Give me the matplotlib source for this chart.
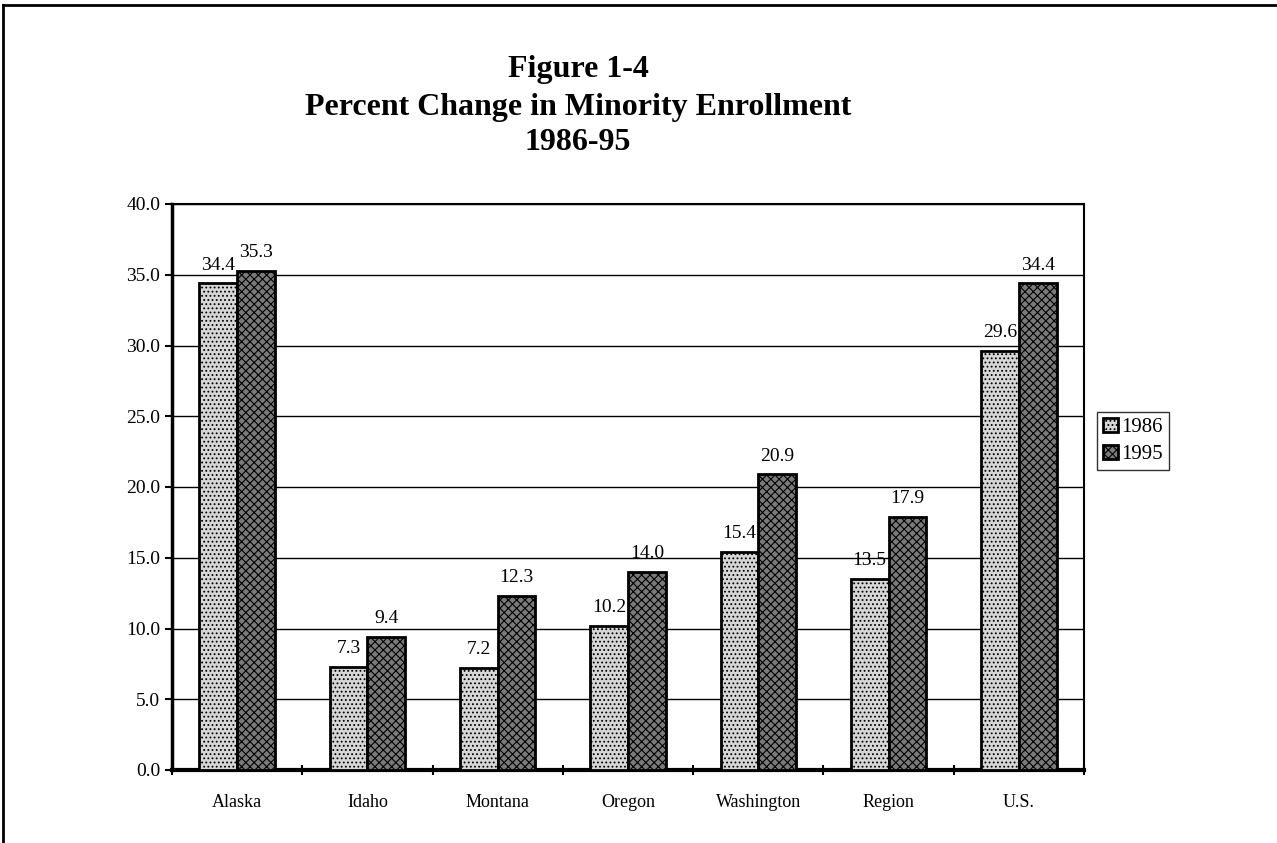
import matplotlib.pyplot as plt
import numpy as np

# Dades
categories = ['Alaska', 'Idaho', 'Montana', 'Oregon', 'Washington', 'Region', 'U.S.']
vals_1986 = [34.4, 7.3, 7.2, 10.2, 15.4, 13.5, 29.6]
vals_1995 = [35.3, 9.4, 12.3, 14.0, 20.9, 17.9, 34.4]
series_names = ['1986', '1995']

plt.rcParams['font.family'] = ['Liberation Serif', 'DejaVu Serif']
plt.rcParams['hatch.linewidth'] = 0.8

fig = plt.figure(figsize=(12.77, 8.43), dpi=100)
ax = fig.add_axes([172/1277, 1 - 770/843, (1084-172)/1277, (770-204)/843])

x = np.arange(len(categories))
w = 0.29
b1 = ax.bar(x - w/2, vals_1986, w, color='#d6d6d6', edgecolor='black', linewidth=2,
            hatch='....', label=series_names[0], zorder=3)
b2 = ax.bar(x + w/2, vals_1995, w, color='#7a7a7a', edgecolor='black', linewidth=2,
            hatch='xxxx', label=series_names[1], zorder=3)

for bars, vals in [(b1, vals_1986), (b2, vals_1995)]:
    for r, v in zip(bars, vals):
        ax.annotate(f'{v:.1f}', (r.get_x() + r.get_width()/2, v), xytext=(0, 7),
                    textcoords='offset points', ha='center', va='bottom', fontsize=14)

ax.set_xlim(-0.5, len(categories) - 0.5)
ax.set_ylim(0, 40)
ax.set_yticks(np.arange(0, 40.1, 5))
ax.set_yticklabels([f'{t:.1f}' for t in np.arange(0, 40.1, 5)], fontsize=14)
ax.set_xticks(x)
ax.set_xticklabels(categories, fontsize=13)
ax.set_xticks(np.arange(-0.5, len(categories)), minor=True)
ax.tick_params(axis='x', which='major', length=0, pad=17)
ax.tick_params(axis='x', which='minor', length=7, width=1.5, direction='inout')
ax.tick_params(axis='y', length=5, width=1.5, direction='out')
ax.yaxis.grid(True, color='black', linewidth=1, zorder=0)
ax.set_axisbelow(True)
for s in ax.spines.values():
    s.set_linewidth(1.5)
ax.spines['bottom'].set_linewidth(3)
ax.spines['left'].set_linewidth(2.5)

# Títol
fig.text(578/1277, 1 - 70/843, 'Figure 1-4', ha='center', va='center', fontsize=23, fontweight='bold')
fig.text(578/1277, 1 - 107/843, 'Percent Change in Minority Enrollment', ha='center', va='center',
         fontsize=23, fontweight='bold')
fig.text(578/1277, 1 - 143/843, '1986-95', ha='center', va='center', fontsize=23, fontweight='bold')

leg = fig.legend(handles=[b1, b2], loc='center left', bbox_to_anchor=(1097/1277, 1 - 441/843),
                 fontsize=15, frameon=True, fancybox=False, edgecolor='black',
                 handlelength=0.7, handleheight=0.7, handletextpad=0.15, borderpad=0.3,
                 labelspacing=0.35, borderaxespad=0)
leg.get_frame().set_linewidth(1)

# Marc de la pàgina
fig.add_artist(plt.Line2D([3/1277, 1], [1 - 5/843, 1 - 5/843], color='black', linewidth=2))
fig.add_artist(plt.Line2D([3/1277, 3/1277], [0, 1 - 5/843], color='black', linewidth=2))

fig.savefig('out.png', dpi=100)
